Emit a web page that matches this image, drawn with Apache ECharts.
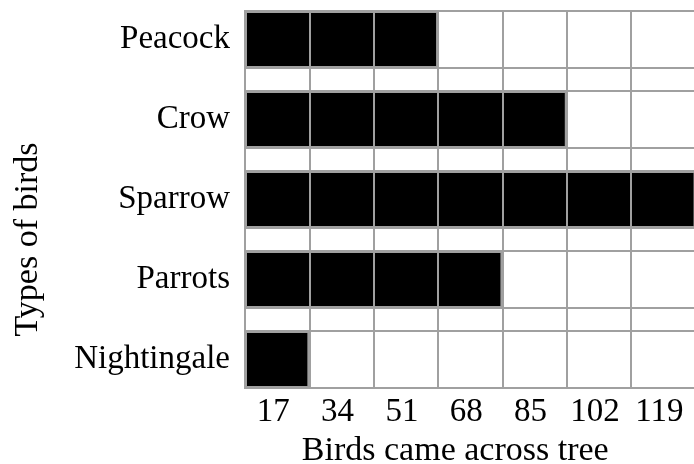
<!DOCTYPE html>
<html>
<head>
<meta charset="utf-8">
<script src="https://cdn.jsdelivr.net/npm/echarts@6/dist/echarts.min.js"></script>
<style>
html,body{margin:0;padding:0;background:#fff;}
#chart{width:694px;height:464px;}
</style>
</head>
<body>
<div id="chart"></div>
<script>
const birds = ['Peacock', 'Crow', 'Sparrow', 'Parrots', 'Nightingale'];
const counts = [51, 85, 119, 68, 17];
const tickLabels = ['17', '34', '51', '68', '85', '102', '119'];
const axisMax = 119;
const xTitle = 'Birds came across tree';
const yTitle = 'Types of birds';

const FONT = '"Liberation Serif", serif';
const GRID_COLOR = '#a0a0a0';

const chart = echarts.init(document.getElementById('chart'));
chart.setOption({
  animation: false,
  backgroundColor: '#fff',
  grid: [
    { left: 245, width: 450.5, top: -0.5, height: 400, containLabel: false, outerBoundsMode: 'none' },
    { left: 245, width: 450.5, top: 11, height: 377, containLabel: false, outerBoundsMode: 'none' }
  ],
  xAxis: [
    {
      gridIndex: 0, type: 'value', min: 0, max: axisMax,
      show: false, splitLine: { show: false }
    },
    {
      gridIndex: 1, type: 'category', data: tickLabels, boundaryGap: true,
      z: 10,
      axisLine: { show: false },
      axisTick: { show: false },
      splitLine: { show: true, showMinLine: true, showMaxLine: true, lineStyle: { color: GRID_COLOR, width: 2 } },
      axisLabel: { margin: 8, fontFamily: FONT, fontSize: 33, color: '#000', padding: [0, 8, 0, 0] },
      name: xTitle, nameLocation: 'middle', nameGap: 46,
      nameTextStyle: { fontFamily: FONT, fontSize: 34, color: '#000', padding: [0, 30, 0, 0] }
    }
  ],
  yAxis: [
    {
      gridIndex: 0, type: 'category', data: birds, inverse: true,
      axisLine: { show: false }, axisTick: { show: false }, splitLine: { show: false },
      axisLabel: { margin: 15, fontFamily: FONT, fontSize: 33, color: '#000', padding: [6, 0, 0, 0] },
      name: yTitle, nameLocation: 'middle', nameRotate: 90, nameGap: 200,
      nameTextStyle: { fontFamily: FONT, fontSize: 34, color: '#000', padding: [0, 80, 0, 0] }
    },
    {
      gridIndex: 1, type: 'value', show: false, splitLine: { show: false }
    }
  ],
  series: [
    {
      type: 'bar', xAxisIndex: 0, yAxisIndex: 0,
      data: counts, barWidth: 57,
      showBackground: true,
      backgroundStyle: { color: '#fff', borderColor: GRID_COLOR, borderWidth: 2 },
      itemStyle: { color: '#000', borderColor: GRID_COLOR, borderWidth: 2 }
    }
  ]
});
</script>
</body>
</html>
